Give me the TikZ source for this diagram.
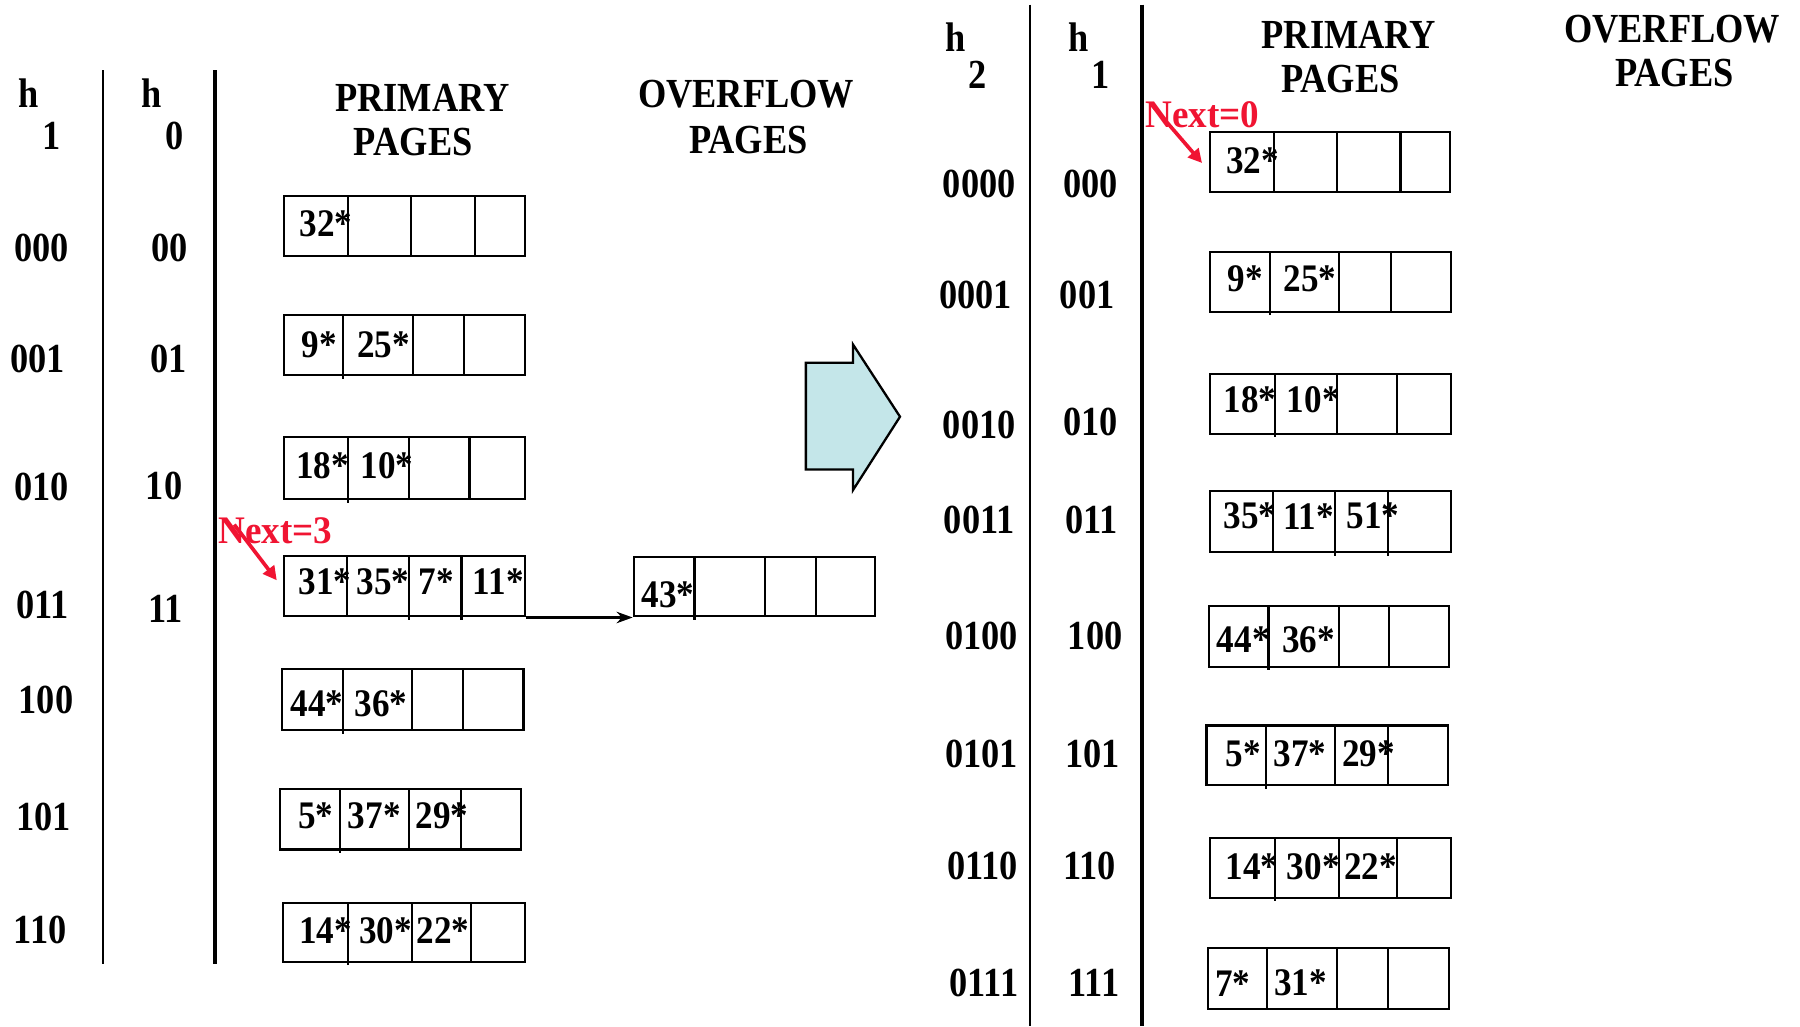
\documentclass[tikz,border=0pt]{standalone}
\usepackage{fontspec}
\setmainfont{Liberation Serif}[FakeStretch=0.88]
\newfontfamily\cellfont{Liberation Serif}[FakeStretch=0.9]
\newfontfamily\markfont{Liberation Serif}[FakeStretch=0.95]
\usetikzlibrary{arrows.meta,fit}

\definecolor{nextred}{RGB}{240,20,50}
\definecolor{shiftfill}{RGB}{196,230,233}

% a bucket page: name, x1, y1, x2, y2, list of slot dividers (x/extra length below)
\newcommand\bucket[6]{%
  \node[pbox, fit={(#2,#3)(#4,#5)}] (#1) {};
  \foreach \xd/\xe in {#6} \draw[cellrule] (\xd,#3) -- (\xd,#5+\xe);
}

\begin{document}
\begin{tikzpicture}[x=0.5pt,y=-0.5pt,
  lbl/.style={font=\bfseries\fontsize{18}{20}\selectfont, inner sep=0pt},
  val/.style={font=\cellfont\bfseries\fontsize{17}{19}\selectfont, inner sep=0pt},
  nextlbl/.style={font=\markfont\bfseries\fontsize{17}{19}\selectfont, text=nextred, inner sep=0pt},
  pbox/.style={draw, line width=0.9pt, inner sep=0pt},
  cellrule/.style={line width=0.9pt},
  thinrule/.style={line width=0.9pt},
  thickrule/.style={line width=1.8pt},
  link/.style={line width=1pt, -{Stealth[length=7pt,width=5pt]}},
  nextarrow/.style={nextred, line width=1.6pt, -{Triangle[length=6pt,width=6pt]}},
]
\useasboundingbox (0,0) rectangle (1568,894);

% ---------------- before the split ----------------
\node[lbl] (lh1) at (25,81) {h};
\node[lbl] (lh1i) at (45,118) {1};
\node[lbl] (lh0) at (132,81) {h};
\node[lbl] (lh0i) at (152,118) {0};
\draw[thinrule] (90,61) -- (90,840);
\draw[thickrule] (187,61) -- (187,840);

\node[lbl] (lprim) at (368,85) {PRIMARY};
\node[lbl] (lprimb) at (360,124) {PAGES};
\node[lbl] (lovf) at (650,82) {OVERFLOW};
\node[lbl] (lovfb) at (652,122) {PAGES};

\node[lbl] (a000) at (36,216) {000};
\node[lbl] (a001) at (33,313) {001};
\node[lbl] (a010) at (36,424) {010};
\node[lbl] (a011) at (37,527) {011};
\node[lbl] (a100) at (40,610) {100};
\node[lbl] (a101) at (38,712) {101};
\node[lbl] (a110) at (35,810) {110};

\node[lbl] (b00) at (148,216) {00};
\node[lbl] (b01) at (147,313) {01};
\node[lbl] (b10) at (143,423) {10};
\node[lbl] (b11) at (144,530) {11};

\bucket{L1}{247}{171}{457}{223}{303/0,358/0,414/0}
\bucket{L2}{247}{274}{457}{327}{299/3,360/0,404/0}
\bucket{L3}{247}{381}{457}{435}{303/3,356/0,409/0}
\bucket{L4}{247}{484}{457}{537}{302/0,356/3,402/3}
\bucket{L5}{246}{583}{456}{636}{298.5/3,359/0,403/0}
\bucket{L6}{244}{687}{454}{740}{296/3,356/0,401.6/0}
\bucket{L7}{246.5}{787}{457}{838}{303/3,359/0,410/0}
\bucket{O4}{552}{485}{762}{537}{605/3,666/0,711/0}

\node[val] (L1a) at (284,195) {32*};
\node[val] (L2a) at (278,300) {9*};
\node[val] (L2b) at (334,300) {25*};
\node[val] (L3a) at (281,406) {18*};
\node[val] (L3b) at (337,406) {10*};
\node[val] (L4a) at (283,507) {31*};
\node[val] (L4b) at (333.6,507) {35*};
\node[val] (L4c) at (380,507) {7*};
\node[val] (L4d) at (434,507) {11*};
\node[val] (L5a) at (276,613) {44*};
\node[val] (L5b) at (332,613) {36*};
\node[val] (L6a) at (275,711) {5*};
\node[val] (L6b) at (326,711) {37*};
\node[val] (L6c) at (385,711) {29*};
\node[val] (L7a) at (283.5,811) {14*};
\node[val] (L7b) at (336,811) {30*};
\node[val] (L7c) at (386,811) {22*};
\node[val] (O4a) at (582,518) {43*};

\draw[link] (L4.south east) -- (O4.south west);

\node[nextlbl] (nx3) at (240,462) {Next=3};
\draw[nextarrow] ([shift={(14,-5)}]nx3.west) -- ([shift={(-5,-5)}]L4.west);

% ---------------- the split ----------------
\draw[line width=1pt, fill=shiftfill, line join=miter]
  (702,316) -- (743,316) -- (743,300) -- (784,363) -- (743,427) -- (743,409) -- (702,409) -- cycle;

% ---------------- after the split ----------------
\node[lbl] (rh2) at (832,32) {h};
\node[lbl] (rh2i) at (852,65) {2};
\node[lbl] (rh1) at (940,32) {h};
\node[lbl] (rh1i) at (959,65) {1};
\draw[thinrule] (897,4) -- (897,894);
\draw[thickrule] (995,4) -- (995,894);

\node[lbl] (rprim) at (1175,30) {PRIMARY};
\node[lbl] (rprimb) at (1167.6,69) {PAGES};
\node[lbl] (rovf) at (1456.6,25) {OVERFLOW};
\node[lbl] (rovfb) at (1458.6,64) {PAGES};

\node[lbl] (c0000) at (853,160) {0000};
\node[lbl] (c0001) at (850,257) {0001};
\node[lbl] (c0010) at (853,370) {0010};
\node[lbl] (c0011) at (853,453) {0011};
\node[lbl] (c0100) at (855,554) {0100};
\node[lbl] (c0101) at (855,657) {0101};
\node[lbl] (c0110) at (856,754) {0110};
\node[lbl] (c0111) at (857,856) {0111};

\node[lbl] (d000) at (950,160) {000};
\node[lbl] (d001) at (947,257) {001};
\node[lbl] (d010) at (950,368) {010};
\node[lbl] (d011) at (951,453) {011};
\node[lbl] (d100) at (954,554) {100};
\node[lbl] (d101) at (952,657) {101};
\node[lbl] (d110) at (949,754) {110};
\node[lbl] (d111) at (953,856) {111};

\bucket{R1}{1054}{115}{1263}{167}{1110/0,1165/0,1220/0}
\bucket{R2}{1054}{219.5}{1264}{271.7}{1106/3,1166/0,1211.6/0}
\bucket{R3}{1054}{325.8}{1264}{378}{1110.6/3,1164.6/0,1216.6/0}
\bucket{R4}{1054}{428}{1264}{481}{1109/0,1163/3,1209/3}
\bucket{R5}{1053}{528}{1262}{581}{1105/3,1166/0,1210/0}
\bucket{R6}{1051}{632}{1261}{684}{1103/3,1163/0,1209/0}
\bucket{R7}{1054}{730}{1264}{782}{1111/3,1166/0,1217/0}
\bucket{R8}{1052}{826}{1262}{879}{1104/0,1165/0,1209/0}

\node[val] (R1a) at (1091,140) {32*};
\node[val] (R2a) at (1085,242.6) {9*};
\node[val] (R2b) at (1141,242.6) {25*};
\node[val] (R3a) at (1089,348.6) {18*};
\node[val] (R3b) at (1144,348.6) {10*};
\node[val] (R4a) at (1089,449.6) {35*};
\node[val] (R4b) at (1140,449.6) {11*};
\node[val] (R4c) at (1196,449.6) {51*};
\node[val] (R5a) at (1083,557.6) {44*};
\node[val] (R5b) at (1140,557.6) {36*};
\node[val] (R6a) at (1083,656.5) {5*};
\node[val] (R6b) at (1132.6,656.5) {37*};
\node[val] (R6c) at (1192,656.5) {29*};
\node[val] (R7a) at (1090.6,755) {14*};
\node[val] (R7b) at (1144,755) {30*};
\node[val] (R7c) at (1194,755) {22*};
\node[val] (R8a) at (1074,856.5) {7*};
\node[val] (R8b) at (1133,856.5) {31*};

\node[nextlbl] (nx0) at (1047.5,99.5) {Next=0};
\draw[nextarrow] ([shift={(6,-8)}]nx0.west) -- ([shift={(-6,1)}]R1.west);
\end{tikzpicture}
\end{document}
